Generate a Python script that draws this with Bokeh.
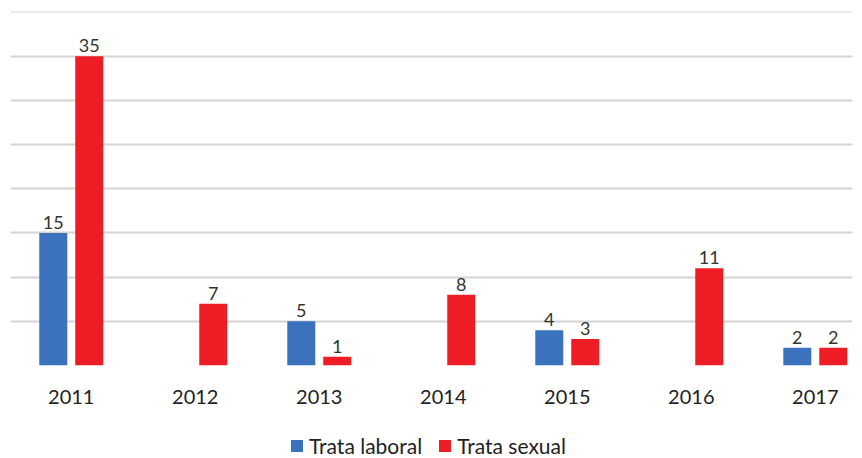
from bokeh.plotting import figure
from bokeh.layouts import column
from bokeh.models import ColumnDataSource, FixedTicker, Legend, LegendItem, Range1d
from bokeh.core.properties import value
from bokeh.embed import file_html
from bokeh.resources import INLINE

years = ["2011", "2012", "2013", "2014", "2015", "2016", "2017"]
laboral = [15, 0, 5, 0, 4, 0, 2]
sexual = [35, 7, 1, 8, 3, 11, 2]
grid_ticks = [0, 5, 10, 15, 20, 25, 30, 35, 40]
series_names = ["Trata laboral", "Trata sexual"]

BLUE = "#3B72BD"
RED = "#EE1D25"
FONT = "Lato"

xs = list(range(len(years)))
off = 0.145
bw = 0.226

p = figure(width=854, height=418, output_backend="svg", toolbar_location=None,
           x_range=Range1d(-0.49, 6.30), y_range=Range1d(0, 40.05),
           min_border_left=10, min_border_right=2, min_border_top=11, min_border_bottom=53)
p.outline_line_color = None

src_l = ColumnDataSource(dict(x=[x - off for x in xs], top=laboral))
src_s = ColumnDataSource(dict(x=[x + off for x in xs], top=sexual))
p.vbar(x="x", top="top", width=bw, source=src_l, fill_color=BLUE, line_color=None)
p.vbar(x="x", top="top", width=bw, source=src_s, fill_color=RED, line_color=None)

# labels (skip zeros)
lab_x, lab_y, lab_t = [], [], []
for x, v in zip(xs, laboral):
    if v > 0:
        lab_x.append(x - off); lab_y.append(v); lab_t.append(str(v))
for x, v in zip(xs, sexual):
    if v > 0:
        lab_x.append(x + off); lab_y.append(v); lab_t.append(str(v))
p.text(x=lab_x, y=lab_y, text=lab_t, text_align="center", text_baseline="bottom",
       y_offset=-4, text_font=value(FONT), text_font_size="18px", text_color="#333333")

p.yaxis.visible = False
p.ygrid.ticker = FixedTicker(ticks=grid_ticks)
p.ygrid.grid_line_color = "#d4d4d4"
p.ygrid.grid_line_width = 2
p.xgrid.grid_line_color = None

p.xaxis.ticker = FixedTicker(ticks=xs)
p.xaxis.major_label_overrides = {i: y for i, y in enumerate(years)}
p.xaxis.axis_line_color = None
p.xaxis.major_tick_line_color = None
p.xaxis.minor_tick_line_color = None
p.xaxis.major_label_standoff = 18
p.xaxis.major_label_text_font = FONT
p.xaxis.major_label_text_font_size = "20px"
p.xaxis.major_label_text_color = "#222222"

# legend figure (legend swatches come from off-screen proxy renderers)
pl = figure(width=854, height=40, output_backend="svg", toolbar_location=None,
            x_range=Range1d(0, 1), y_range=Range1d(0, 1),
            min_border_left=10, min_border_right=2, min_border_top=0, min_border_bottom=0)
pl.outline_line_color = None
pl.axis.visible = False
pl.grid.visible = False
e1 = pl.vbar(x=[-5], top=[0], width=0.1, fill_color=BLUE, line_color=None)
e2 = pl.vbar(x=[-5], top=[0], width=0.1, fill_color=RED, line_color=None)
legend = Legend(items=[LegendItem(label=series_names[0], renderers=[e1]),
                       LegendItem(label=series_names[1], renderers=[e2])],
                orientation="horizontal", location=(279, 0),
                label_text_font=FONT, label_text_font_size="21px", label_text_color="#222222",
                glyph_width=15, glyph_height=15, spacing=15, label_standoff=5,
                label_height=18,
                border_line_color=None, background_fill_alpha=0, padding=0, margin=0)
pl.add_layout(legend, "center")

layout = column(p, pl, spacing=0)
open("out.html", "w").write(file_html(layout, INLINE))
